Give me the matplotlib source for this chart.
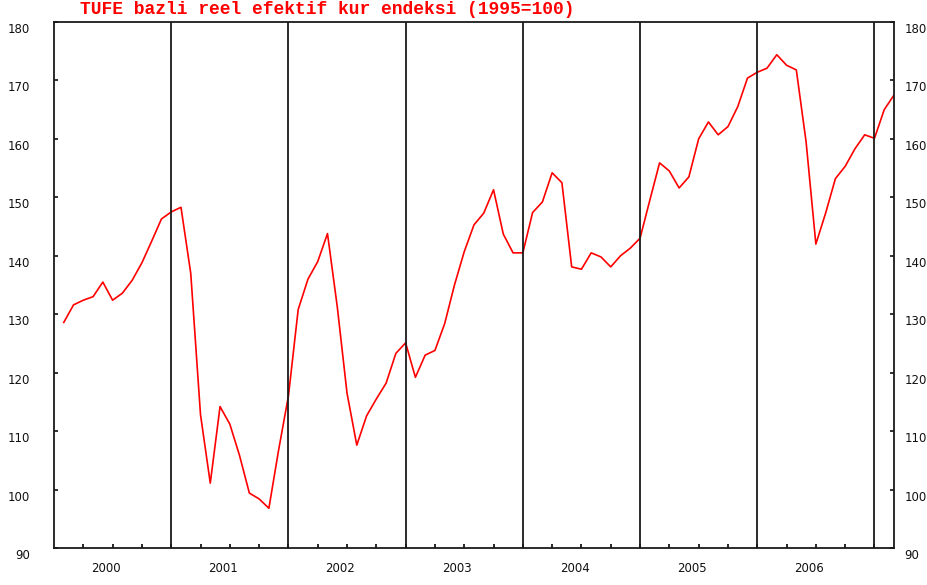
import matplotlib
matplotlib.use("Agg")
import matplotlib.pyplot as plt
import matplotlib.transforms as mtransforms
import numpy as np

# =========================
# Data: monthly index, Jan 2000 .. Feb 2007
# =========================
YEARS = ["2000", "2001", "2002", "2003", "2004", "2005", "2006"]

values_2000 = [128.6, 131.6, 132.4, 133.0, 135.5, 132.4, 133.6, 135.8, 138.8, 142.5, 146.3, 147.5]
values_2001 = [148.3, 137.0, 112.8, 101.1, 114.2, 111.2, 105.8, 99.4, 98.4, 96.8, 106.8, 116.0]
values_2002 = [130.8, 136.0, 139.0, 143.8, 131.3, 116.5, 107.6, 112.6, 115.5, 118.2, 123.3, 125.1]
values_2003 = [119.2, 123.0, 123.8, 128.4, 135.0, 140.7, 145.3, 147.3, 151.3, 143.7, 140.5, 140.5]
values_2004 = [147.4, 149.2, 154.2, 152.5, 138.1, 137.7, 140.5, 139.8, 138.1, 140.0, 141.3, 143.0]
values_2005 = [149.5, 155.9, 154.5, 151.6, 153.5, 160.0, 162.9, 160.7, 162.1, 165.5, 170.4, 171.4]
values_2006 = [172.1, 174.4, 172.6, 171.8, 159.5, 142.0, 147.3, 153.2, 155.3, 158.3, 160.7, 160.1]
values_2007 = [165.0, 167.5]

series = (values_2000 + values_2001 + values_2002 + values_2003 + values_2004
          + values_2005 + values_2006 + values_2007)

TITLE = "TUFE bazli reel efektif kur endeksi (1995=100)"
Y_TICKS = list(range(90, 181, 10))


def make_plot(output_file="out.png"):
    fig = plt.figure(figsize=(9.28, 5.85), dpi=100)
    ax = fig.add_axes([54 / 928, 1 - 548 / 585, 840 / 928, 526 / 585])

    # month i plotted at end of month i (Jan 2000 -> 1)
    months = np.arange(1, len(series) + 1)
    ax.plot(months, series, color="#ff0000", lw=1.2)

    # year separators
    for k in range(1, len(YEARS) + 1):
        ax.axvline(12 * k, color="#1a1a1a", lw=1.3)

    ax.set_xlim(0, len(series))
    ax.set_ylim(90, 180)

    # y axis: labels on both sides, ticks pointing inward
    ax.set_yticks(Y_TICKS)
    ax.set_yticklabels([str(v) for v in Y_TICKS])
    ax.tick_params(axis="y", direction="in", length=3, width=1.2, pad=17,
                   left=True, right=True, labelleft=True, labelright=True,
                   labelsize=8.5, colors="#111111")

    # labels sit a bit below their tick; right labels closer to the spine
    down = mtransforms.ScaledTranslation(0, -6 / 100, fig.dpi_scale_trans)
    right_in = mtransforms.ScaledTranslation(-13 / 100, 0, fig.dpi_scale_trans)
    for tick in ax.yaxis.get_major_ticks():
        tick.label1.set_transform(tick.label1.get_transform() + down)
        tick.label2.set_transform(tick.label2.get_transform() + down + right_in)

    # x axis: quarterly minor ticks, year labels without marks
    ax.set_xticks(np.arange(3, len(series), 3), minor=True)
    ax.set_xticks([12 * k + 5.3 for k in range(len(YEARS))])
    ax.set_xticklabels(YEARS)
    ax.tick_params(axis="x", which="minor", direction="in", length=3, width=1.2,
                   bottom=True, top=False)
    ax.tick_params(axis="x", which="major", length=0, pad=10, labelsize=8.5,
                   colors="#111111")

    for spine in ax.spines.values():
        spine.set_linewidth(1.3)
        spine.set_color("#1a1a1a")

    fig.text(80 / 928, 1 - 1 / 585, TITLE, color="#ff0000", fontsize=13,
             family="Liberation Mono", fontweight="bold", ha="left", va="top")

    fig.savefig(output_file, dpi=100)
    plt.close(fig)


if __name__ == "__main__":
    make_plot("out.png")
